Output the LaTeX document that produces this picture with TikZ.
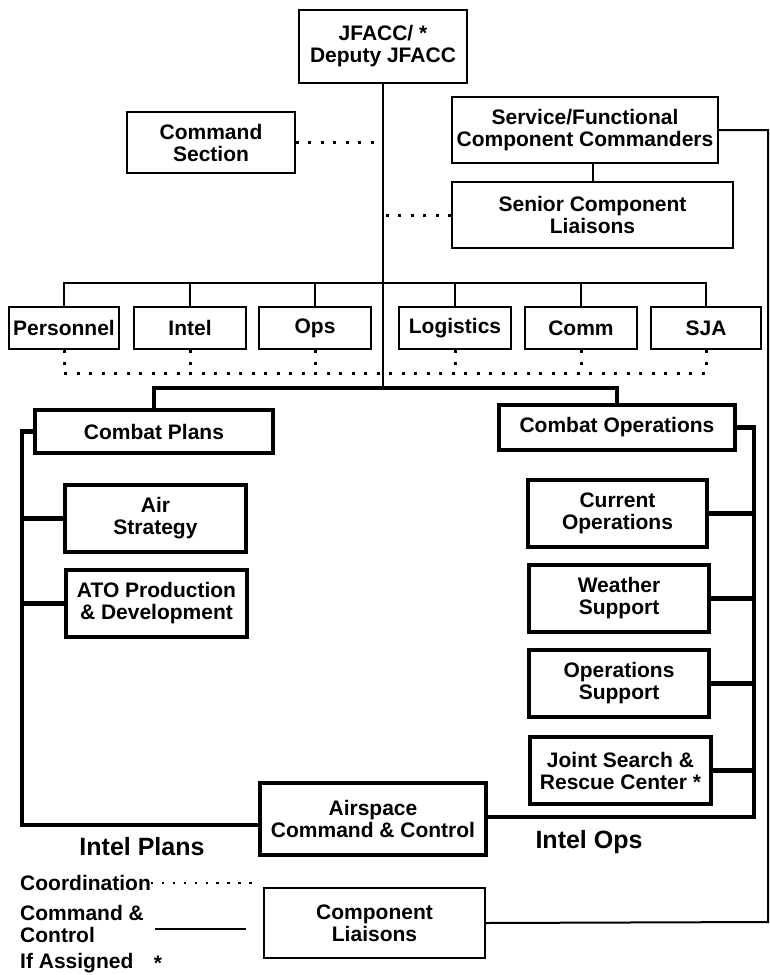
\documentclass[tikz,border=0pt]{standalone}
\usepackage{fontspec}
\setmainfont{Liberation Sans}
\usetikzlibrary{calc}

\begin{document}
\begin{tikzpicture}[x=1pt,y=-1pt,
  every node/.style={font=\bfseries\fontsize{21}{22}\selectfont, align=center, inner sep=0pt},
  sz/.style 2 args={minimum width=#1, minimum height=#2},
  box/.style={draw, line width=1.8pt},
  heavy/.style={draw, line width=4.5pt},
  link/.style={line width=2pt},
  rail/.style={line width=4.5pt},
  dots/.style={line width=3pt, dash pattern=on 3pt off 9.5pt},
  tag/.style={font=\bfseries\fontsize{25}{26}\selectfont}]
\useasboundingbox (0,0) rectangle (770,975);
\fill[white] (0,0) rectangle (770,975);

% top of the chart
\node[box, sz={168}{73}] (jfacc) at (383,46.5) {JFACC/ *\\Deputy JFACC};
\node[box, sz={168}{61}] (cmdsec) at (211,142.5) {Command\\Section};
\node[box, sz={266}{66}] (svc) at (585,130) {Service/Functional\\Component Commanders};
\node[box, sz={281}{66}] (senior) at (592.5,215) {Senior Component\\Liaisons};

% staff row
\node[box, sz={110}{42}] (pers) at (64,328) {Personnel};
\node[box, sz={112}{42}] (intel) at (190,328) {Intel};
\node[box, sz={112}{42}] (ops) at (315,328) {Ops};
\node[box, sz={112}{42}] (logi) at (455,328) {Logistics};
\node[box, sz={112}{42}] (comm) at (581,328) {Comm};
\node[box, sz={110}{42}] (sja) at (706,328) {SJA};

% combat plans / operations
\node[heavy, sz={238}{43}] (cplans) at (154,431.5) {Combat Plans};
\node[heavy, sz={236}{45}] (cops) at (617,427.5) {Combat Operations};
\node[heavy, sz={181}{67}] (airstrat) at (155.5,518.5) {Air\\Strategy};
\node[heavy, sz={181}{67}] (ato) at (156.5,603.5) {ATO Production\\\& Development};
\node[heavy, sz={179}{67}] (curops) at (617.5,513.5) {Current\\Operations};
\node[heavy, sz={180}{67}] (weather) at (619,598.5) {Weather\\Support};
\node[heavy, sz={180}{67}] (opssup) at (619,683.5) {Operations\\Support};
\node[heavy, sz={181}{67}] (jsrc) at (620.5,770.5) {Joint Search \&\\Rescue Center *};
\node[heavy, sz={226}{72}] (airsp) at (373,819) {Airspace\\Command \& Control};
\node[box, line width=1.5pt, sz={221}{70}] (complia) at (374.5,923) {Component\\Liaisons};

\node[tag] (iplans) at (142,847) {Intel Plans};
\node[tag] (iops) at (589,842) {Intel Ops};

\coordinate (bus) at (383,283);
\coordinate (split) at (383,388);
\coordinate (dotbus) at (383,373);
\coordinate (lrail) at (22,825);
\coordinate (rrail) at (754,817);
\coordinate (edge) at (768,922);

% connectors
\draw[link] (jfacc.south) -- (split);
\draw[dots] (cmdsec.east) -- (cmdsec.east -| jfacc.south);
\draw[dots] (senior.west) -- (senior.west -| jfacc.south);
\draw[link] (svc.south -| senior.north) -- (senior.north);
\draw[link] (svc.east) -| (edge) -- (complia.east);
\foreach \n in {pers,intel,ops,logi,comm,sja} {
  \draw[link] (\n.north) |- (bus);
  \draw[dots] (\n.south) -- (\n.south |- dotbus);
}
\draw[dots] (pers.south |- dotbus) -- (sja.south |- dotbus);
\draw[rail] (cplans.north) |- (split) -| (cops.north);
\draw[rail] (cplans.west) -| (lrail) -- (lrail -| airsp.west);
\foreach \n in {airstrat,ato} \draw[rail] (\n.west) -- (\n.west -| lrail);
\draw[rail] (cops.east) -| (rrail) -- (rrail -| airsp.east);
\foreach \n in {curops,weather,opssup,jsrc} \draw[rail] (\n.east) -- (\n.east -| rrail);

% legend
\node[anchor=west] (lgcoord) at (20,883) {Coordination};
\coordinate (coordend) at (253,883);
\draw[dots, line width=2.4pt, dash pattern=on 2.4pt off 8.5pt] (lgcoord.east) -- (coordend);
\node[anchor=west, align=left] (lgcc) at (20,924) {Command \&\\Control};
\coordinate (ccA) at (155,929);
\coordinate (ccB) at (246,929);
\draw[link] (ccA) -- (ccB);
\node[anchor=west] (lgif) at (20,963) {If Assigned};
\node (lgstar) at (158,963) {*};
\end{tikzpicture}
\end{document}
